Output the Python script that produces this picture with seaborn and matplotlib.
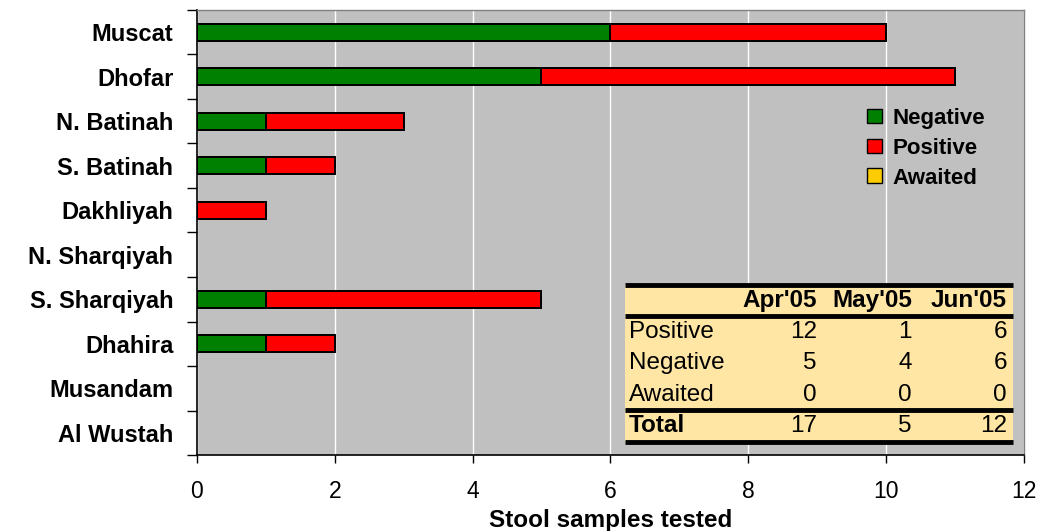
import matplotlib.pyplot as plt
import matplotlib.patches as mpatches
import numpy as np
import pandas as pd
import seaborn as sns

# chart data
regions = ["Muscat", "Dhofar", "N. Batinah", "S. Batinah", "Dakhliyah",
           "N. Sharqiyah", "S. Sharqiyah", "Dhahira", "Musandam", "Al Wustah"]
negative = [6, 5, 1, 1, 0, 0, 1, 1, 0, 0]
positive = [4, 6, 2, 1, 1, 0, 4, 1, 0, 0]
awaited = [0, 0, 0, 0, 0, 0, 0, 0, 0, 0]

# summary table data
months = ["Apr'05", "May'05", "Jun'05"]
row_names = ["Positive", "Negative", "Awaited"]
tab_positive = [12, 1, 6]
tab_negative = [5, 4, 6]
tab_awaited = [0, 0, 0]
tab_total = [17, 5, 12]

df = pd.DataFrame({"Region": regions, "Negative": negative,
                   "Positive": positive, "Awaited": awaited})
df["NegPos"] = df["Negative"] + df["Positive"]
df["All"] = df["NegPos"] + df["Awaited"]

sns.set_style("white")
plt.rcParams['font.family'] = ['Liberation Sans', 'DejaVu Sans']
for key in ["text.color", "axes.labelcolor", "xtick.color", "ytick.color"]:
    plt.rcParams[key] = "black"

fig = plt.figure(figsize=(10.46, 5.31), dpi=100)
ax = fig.add_axes([0.1883, 0.1431, 0.7905, 0.8381])
ax.set_facecolor("#C0C0C0")

colors = {"All": "#FFCC00", "NegPos": "#FF0000", "Negative": "#008000"}
for col in ["All", "NegPos", "Negative"]:
    sns.barplot(data=df, x=col, y="Region", orient="h", color=colors[col],
                width=0.38, edgecolor="black", linewidth=1.4, saturation=1,
                ax=ax)
# hide outlines of empty bars
for p in ax.patches:
    if p.get_width() == 0:
        p.set_edgecolor("none")

ax.set_xlim(0, 12)
ax.set_xticks(np.arange(0, 13, 2))
ax.set_ylim(9.5, -0.5)
ax.xaxis.grid(True, color="white", lw=1)
ax.set_axisbelow(True)

ax.set_yticks(np.arange(-0.5, 10, 1), minor=True)
ax.tick_params(axis="y", which="major", length=0, pad=17, labelsize=17)
ax.tick_params(axis="y", which="minor", length=7, width=1, color="black",
               direction="out", left=True)
ax.tick_params(axis="x", length=6, width=1, color="black", direction="out",
               bottom=True, pad=12, labelsize=16.5)
for lab in ax.get_yticklabels():
    lab.set_fontweight("bold")

ax.set_ylabel("")
ax.set_xlabel("Stool samples tested", fontsize=17.5, fontweight="bold",
              labelpad=4)

for s in ["left", "bottom"]:
    ax.spines[s].set_color("black")
    ax.spines[s].set_linewidth(1.2)
for s in ["top", "right"]:
    ax.spines[s].set_color("#808080")
    ax.spines[s].set_linewidth(1.0)

# legend
handles = [mpatches.Patch(facecolor=colors["Negative"], edgecolor="black", label="Negative"),
           mpatches.Patch(facecolor=colors["NegPos"], edgecolor="black", label="Positive"),
           mpatches.Patch(facecolor=colors["All"], edgecolor="black", label="Awaited")]
leg = ax.legend(handles=handles, loc="upper left", bbox_to_anchor=(0.8, 0.80),
                frameon=False, prop={"weight": "bold", "size": 16},
                handlelength=0.65, handleheight=0.65, handletextpad=0.5,
                labelspacing=0.4, borderaxespad=0)

# summary table drawn in axes coordinates
tr = ax.transAxes
x0, x1 = 0.5175, 0.9867
y_top, y_bot = 0.382, 0.030
ax.add_patch(mpatches.Rectangle((x0, y_bot), x1 - x0, y_top - y_bot,
                                transform=tr, facecolor="#FFE6A5",
                                edgecolor="none", zorder=5))
row_h = (y_top - y_bot) / 5
line_ys = [y_top, y_top - row_h, y_bot + row_h, y_bot]
for yl in line_ys:
    ax.plot([x0, x1], [yl, yl], transform=tr, color="black", lw=3.5,
            zorder=6, solid_capstyle="butt")

col_right = [0.7497, 0.8646, 0.9794]
label_x = 0.522
tfont = 17.5

def row_y(i):
    return y_top - row_h * (i + 0.5)

for j, m in enumerate(months):
    ax.text(col_right[j], row_y(0), m, transform=tr, ha="right", va="center",
            fontsize=tfont, fontweight="bold", zorder=7)
rows = [tab_positive, tab_negative, tab_awaited]
for i, (name, vals) in enumerate(zip(row_names, rows)):
    ax.text(label_x, row_y(i + 1), name, transform=tr, ha="left",
            va="center", fontsize=tfont, zorder=7)
    for j, v in enumerate(vals):
        ax.text(col_right[j], row_y(i + 1), str(v), transform=tr, ha="right",
                va="center", fontsize=tfont, zorder=7)
ax.text(label_x, row_y(4), "Total", transform=tr, ha="left", va="center",
        fontsize=tfont, fontweight="bold", zorder=7)
for j, v in enumerate(tab_total):
    ax.text(col_right[j], row_y(4), str(v), transform=tr, ha="right",
            va="center", fontsize=tfont, zorder=7)

plt.savefig("out.png", dpi=100)
